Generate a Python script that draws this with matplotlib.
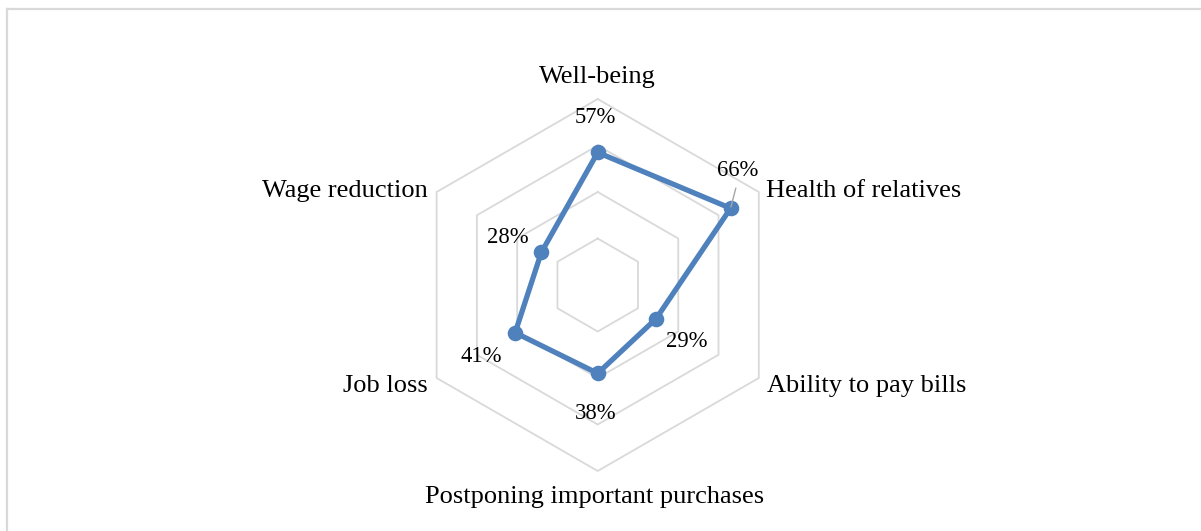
import numpy as np
import matplotlib
matplotlib.use("Agg")
import matplotlib.pyplot as plt
from matplotlib.lines import Line2D

# Survey results: share of respondents worried about each aspect
categories = [
    "Well-being",
    "Health of relatives",
    "Ability to pay bills",
    "Postponing important purchases",
    "Job loss",
    "Wage reduction",
]
values = [0.57, 0.66, 0.29, 0.38, 0.41, 0.28]
value_labels = ["57%", "66%", "29%", "38%", "41%", "28%"]
ring_levels = [0.2, 0.4, 0.6, 0.8]

SERIES_COLOR = "#4f81bd"
GRID_COLOR = "#d9d9d9"
FONT = "Liberation Serif"

W, H = 1201, 531
fig = plt.figure(figsize=(W / 100, H / 100), dpi=100)
fig.patch.set_facecolor("white")

# chart-area border (left and top edges)
bx, by = 6.5 / W, 1 - 9.3 / H
fig.add_artist(Line2D([bx, bx], [0, by], transform=fig.transFigure,
                      color=GRID_COLOR, lw=1.6))
fig.add_artist(Line2D([bx, 1], [by, by], transform=fig.transFigure,
                      color=GRID_COLOR, lw=1.6))

# polar axes centred on the hexagon
cx, cy, R = 597.7, 285.0, 186.0
ax = fig.add_axes([(cx - R) / W, (H - cy - R) / H, 2 * R / W, 2 * R / H],
                  projection="polar")
ax.set_theta_offset(np.pi / 2)
ax.set_theta_direction(-1)
ax.set_ylim(0, ring_levels[-1])
ax.grid(False)
ax.spines["polar"].set_visible(False)
ax.set_xticks([])
ax.set_yticks([])
ax.patch.set_alpha(0)

n = len(categories)
angles = np.linspace(0, 2 * np.pi, n, endpoint=False)
closed_angles = np.append(angles, angles[0])

# hexagonal gridlines
for lvl in ring_levels:
    ax.plot(closed_angles, [lvl] * (n + 1), color=GRID_COLOR, lw=1.3,
            zorder=1, clip_on=False)

# data series
closed_vals = np.append(values, values[0])
ax.plot(closed_angles, closed_vals, color=SERIES_COLOR, lw=3.8, zorder=3,
        solid_joinstyle="round", clip_on=False)
ax.plot(angles, values, linestyle="none", marker="o", ms=10.2,
        color=SERIES_COLOR, zorder=4, clip_on=False)

# data labels (offsets in pixels from each point)
value_offsets = [(-2, 29), (7, 32), (31, -28), (-2, -46), (-34, -29), (-34, 9)]
for i, (lab, off) in enumerate(zip(value_labels, value_offsets)):
    kw = {}
    if i == 1:
        kw["arrowprops"] = dict(arrowstyle="-", color="#a6a6a6", lw=1.0,
                                shrinkA=3, shrinkB=1, relpos=(0.5, 0.0))
    ax.annotate(lab, xy=(angles[i], values[i]), xytext=off,
                textcoords="offset pixels", ha="center", va="baseline",
                fontsize=16.3, family=FONT, color="black", zorder=5,
                annotation_clip=False, **kw)

# category labels at the outer vertices
cat_offsets = [(0, 16.5), (7.5, -4.7), (8.5, -13.7), (-3.5, -32),
               (-8.5, -13.7), (-8.5, -4.7)]
cat_ha = ["center", "left", "left", "center", "right", "right"]
for i, (cat, off, ha) in enumerate(zip(categories, cat_offsets, cat_ha)):
    ax.annotate(cat, xy=(angles[i], ring_levels[-1]), xytext=off,
                textcoords="offset pixels", ha=ha, va="baseline",
                fontsize=19.0, family=FONT, color="black",
                annotation_clip=False)

fig.savefig("out.png", dpi=100, facecolor="white")
